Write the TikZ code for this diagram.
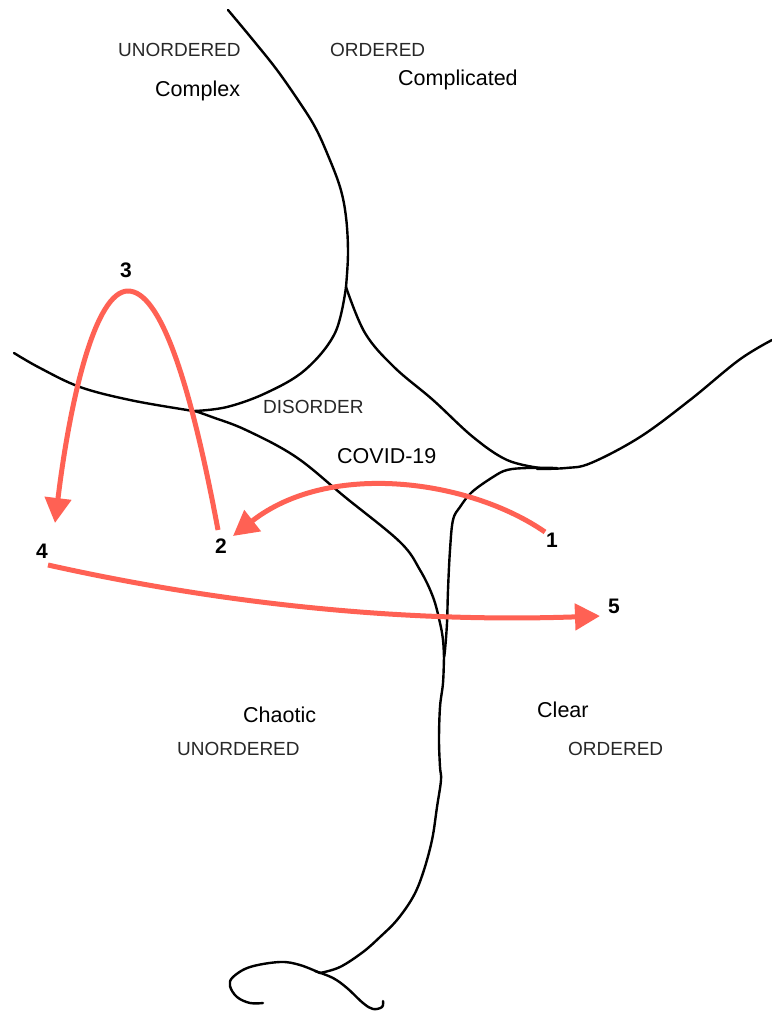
\documentclass[tikz,border=0pt]{standalone}
\usepackage{fontspec}
\setmainfont{Liberation Sans}
\usetikzlibrary{arrows.meta}
\definecolor{arrowred}{RGB}{255,97,84}
\definecolor{labelgray}{RGB}{40,40,40}
\tikzset{
  boundary/.style={draw=black, line width=2.4pt, line cap=round, line join=round},
  redarrow/.style={draw=arrowred, line width=5pt, -{Triangle[length=25pt,width=26pt]}},
  redline/.style={draw=arrowred, line width=5pt},
  zonelabel/.style={anchor=base west, inner sep=0pt, font=\fontsize{19}{19}\selectfont, text=labelgray},
  domainlabel/.style={anchor=base west, inner sep=0pt, font=\fontsize{21.5}{21.5}\selectfont, text=black},
  stepnum/.style={anchor=base, inner sep=0pt, font=\fontsize{21}{21}\selectfont\bfseries, text=black}
}
\begin{document}
\begin{tikzpicture}[x=1pt,y=-1pt]
\useasboundingbox (0,0) rectangle (771,1011);
\fill[white] (0,0) rectangle (771,1011);

% boundaries
\draw[boundary] plot[smooth, tension=0.6] coordinates {(228,10) (253,40) (277,70) (300,103) (315,127) (327,153) (340,187) (346,217) (348,253) (346,287)};
\draw[boundary] plot[smooth, tension=0.6] coordinates {(346,287) (335,333) (305,370) (266,393) (227,407) (195,411)};
\draw[boundary] plot[smooth, tension=0.6] coordinates {(346,287) (365,333) (394,367) (433,400) (473,437) (507,460) (540,468)};
\draw[boundary] plot[smooth, tension=0.6] coordinates {(14,353) (40,368) (80,387) (130,400) (187,410) (195,411)};
\draw[boundary] plot[smooth, tension=0.6] coordinates {(195,411) (212,417) (246,430) (296,457) (345,497) (400,542) (420,570) (433,597) (440,623) (443,640) (444,657)};
\draw[boundary] plot[smooth, tension=0.6] coordinates {(772,340) (739,360) (690,400) (640,437) (591,463) (566,468) (537,469)};
\draw[boundary] plot[smooth, tension=0.6] coordinates {(557,468) (527,468) (507,470) (493,477) (472,492) (460,507) (453,520) (450,550) (448,590) (447,623) (445,650) (444,657)};
\draw[boundary] plot[smooth, tension=0.6] coordinates {(444,657) (443,683) (440,707) (439,740) (440,767) (441,780) (437,807) (432,840) (423,873) (413,897) (397,920) (380,937) (363,952) (340,967) (320,973)};
\draw[boundary] plot[smooth, tension=0.6] coordinates {(320,973) (300,965) (280,962) (250,967) (233,977) (230,986) (237,997) (250,1003) (263,1003)};
\draw[boundary] plot[smooth, tension=0.6] coordinates {(315,971) (333,978) (347,988) (363,1003) (373,1009) (382,1007) (383,1001)};

% labels
\node[zonelabel] (unordTop) at (118,57) {UNORDERED};
\node[zonelabel] (ordTop) at (330,57) {ORDERED};
\node[domainlabel] (complex) at (155,97) {Complex};
\node[domainlabel] (complicated) at (398,86) {Complicated};
\node[zonelabel] (disorder) at (263,413) {DISORDER};
\node[domainlabel] (covid) at (337,463) {COVID-19};
\node[domainlabel] (chaotic) at (243,722) {Chaotic};
\node[zonelabel] (unordBot) at (177,755) {UNORDERED};
\node[domainlabel] (clear) at (537,717) {Clear};
\node[zonelabel] (ordBot) at (568,755) {ORDERED};

% step numbers
\node[stepnum] (n1) at (552,547) {1};
\node[stepnum] (n2) at (221,553) {2};
\node[stepnum] (n3) at (126,277) {3};
\node[stepnum] (n4) at (42,558) {4};
\node[stepnum] (n5) at (614,613) {5};

% arrow end points
\coordinate (a1s) at (545,532);
\coordinate (a1e) at (233,536);
\coordinate (a2s) at (218,530);
\coordinate (a3top) at (128,291);
\coordinate (a3e) at (55,523);
\coordinate (a4s) at (48,565);
\coordinate (a5e) at (600,616);

% red arrows
\draw[redarrow] (a1s) .. controls (470,480) and (330,460) .. (a1e);
\draw[redline] (a2s) .. controls (190,380) and (160,291) .. (a3top);
\draw[redarrow] (a3top) .. controls (95,291) and (70,400) .. (a3e);
\draw[redarrow] (a4s) .. controls (250,610) and (430,622) .. (a5e);
\end{tikzpicture}
\end{document}
